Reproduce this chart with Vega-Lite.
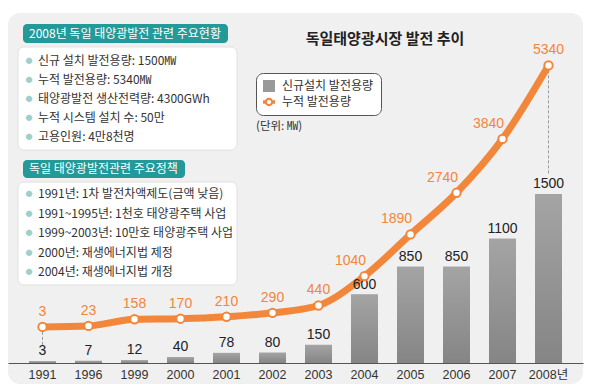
{
  "$schema": "https://vega.github.io/schema/vega-lite/v6.json",
  "width": 575,
  "height": 371,
  "autosize": {"type": "none"},
  "padding": {"left": 8, "top": 13, "right": 7, "bottom": 6},
  "background": "#ffffff",
  "view": {"fill": "#f0f0f0", "stroke": null, "cornerRadius": 12},
  "config": {"font": "Noto Sans CJK KR"},
  "data": {"values": [
    {"year": "1991", "new": 3, "cum": 3},
    {"year": "1996", "new": 7, "cum": 23},
    {"year": "1999", "new": 12, "cum": 158},
    {"year": "2000", "new": 40, "cum": 170},
    {"year": "2001", "new": 78, "cum": 210},
    {"year": "2002", "new": 80, "cum": 290},
    {"year": "2003", "new": 150, "cum": 440},
    {"year": "2004", "new": 600, "cum": 1040},
    {"year": "2005", "new": 850, "cum": 1890},
    {"year": "2006", "new": 850, "cum": 2740},
    {"year": "2007", "new": 1100, "cum": 3840},
    {"year": "2008년", "new": 1500, "cum": 5340}
  ]},
  "resolve": {"scale": {"y": "independent"}},
  "layer": [
    {
      "data": {"values": [{}]},
      "mark": {"type": "rect", "fill": "#ffffff", "stroke": "#e0e0e0", "strokeWidth": 1, "cornerRadius": 6},
      "encoding": {"x": {"value": 10}, "x2": {"value": 229}, "y": {"value": 34}, "y2": {"value": 137}}
    },
    {
      "data": {"values": [{}]},
      "mark": {"type": "rect", "fill": "#ffffff", "stroke": "#e0e0e0", "strokeWidth": 1, "cornerRadius": 6},
      "encoding": {"x": {"value": 10}, "x2": {"value": 229}, "y": {"value": 169}, "y2": {"value": 272}}
    },
    {
      "data": {"values": [{}]},
      "mark": {"type": "rect", "fill": "#239a98", "cornerRadius": 4},
      "encoding": {"x": {"value": 15}, "x2": {"value": 220}, "y": {"value": 11}, "y2": {"value": 30}}
    },
    {
      "data": {"values": [{}]},
      "mark": {"type": "rect", "fill": "#239a98", "cornerRadius": 4},
      "encoding": {"x": {"value": 15}, "x2": {"value": 177}, "y": {"value": 147}, "y2": {"value": 165}}
    },
    {
      "data": {"values": [{}]},
      "mark": {"type": "text", "text": "2008년 독일 태양광발전 관련 주요현황", "align": "left", "baseline": "middle", "fontSize": 12, "color": "#ffffff", "font": "Noto Sans CJK KR"},
      "encoding": {"x": {"value": 21}, "y": {"value": 20.5}}
    },
    {
      "data": {"values": [{}]},
      "mark": {"type": "text", "text": "독일 태양광발전관련 주요정책", "align": "left", "baseline": "middle", "fontSize": 12, "color": "#ffffff", "font": "Noto Sans CJK KR"},
      "encoding": {"x": {"value": 21}, "y": {"value": 156}}
    },
    {
      "data": {"values": [{}]},
      "mark": {"type": "text", "text": ["●", "●", "●", "●", "●"], "align": "center", "baseline": "middle", "fontSize": 7, "lineHeight": 19, "color": "#9fcfcd"},
      "encoding": {"x": {"value": 21}, "y": {"value": 48}}
    },
    {
      "data": {"values": [{}]},
      "mark": {"type": "text", "text": ["●", "●", "●", "●", "●"], "align": "center", "baseline": "middle", "fontSize": 7, "lineHeight": 19.5, "color": "#9fcfcd"},
      "encoding": {"x": {"value": 21}, "y": {"value": 181}}
    },
    {
      "data": {"values": [{}]},
      "mark": {"type": "text", "text": ["신규 설치 발전용량: 1500㎿", "누적 발전용량: 5340㎿", "태양광발전 생산전력량: 4300GWh", "누적 시스템 설치 수: 50만", "고용인원: 4만8천명"], "align": "left", "baseline": "middle", "fontSize": 12, "lineHeight": 19, "color": "#333333", "font": "Noto Sans CJK KR"},
      "encoding": {"x": {"value": 30}, "y": {"value": 48}}
    },
    {
      "data": {"values": [{}]},
      "mark": {"type": "text", "text": ["1991년: 1차 발전차액제도(금액 낮음)", "1991~1995년: 1천호 태양광주택 사업", "1999~2003년: 10만호 태양광주택 사업", "2000년: 재생에너지법 제정", "2004년: 재생에너지법 개정"], "align": "left", "baseline": "middle", "fontSize": 12, "lineHeight": 19.5, "color": "#333333", "font": "Noto Sans CJK KR"},
      "encoding": {"x": {"value": 30}, "y": {"value": 181}}
    },
    {
      "data": {"values": [{}]},
      "mark": {"type": "text", "text": "독일태양광시장 발전 추이", "align": "center", "baseline": "middle", "fontSize": 15, "fontWeight": "bold", "color": "#222222", "font": "Noto Sans CJK KR"},
      "encoding": {"x": {"value": 377}, "y": {"value": 26}}
    },
    {
      "data": {"values": [{}]},
      "mark": {"type": "text", "text": "(단위: ㎿)", "align": "left", "baseline": "middle", "fontSize": 11.5, "color": "#333333", "font": "Noto Sans CJK KR"},
      "encoding": {"x": {"value": 248}, "y": {"value": 114}}
    },
    {
      "mark": {"type": "bar"},
      "encoding": {
        "x": {"field": "year", "type": "ordinal", "sort": null,
          "scale": {"paddingInner": 0.413, "paddingOuter": 0.4565},
          "axis": {"title": null, "orient": "bottom", "offset": -21, "ticks": false, "grid": false, "domainColor": "#555555", "domainWidth": 1, "labelFontSize": 12.5, "labelColor": "#333333", "labelPadding": 5, "labelAngle": 0, "labelFont": "Liberation Sans, Noto Sans CJK KR, sans-serif"}},
        "y": {"field": "new", "type": "quantitative", "scale": {"domain": [-200, 3119], "nice": false, "zero": false}, "axis": null},
        "y2": {"datum": -12},
        "color": {"datum": "신규설치 발전용량",
          "scale": {"domain": ["신규설치 발전용량", "누적 발전용량"], "range": ["#999999", "#f2863a"]},
          "legend": {"orient": "none", "legendX": 248, "legendY": 60, "title": null, "fillColor": "#ffffff", "strokeColor": "#555555", "cornerRadius": 7, "padding": 7, "labelFontSize": 12, "labelColor": "#333333", "labelFont": "Noto Sans CJK KR", "symbolType": "square", "symbolSize": 144, "symbolStrokeWidth": 0, "rowPadding": 4, "labelOffset": 7,
            "encode": {"symbols": {"update": {"shape": {"signal": "datum.value === '누적 발전용량' ? 'M-1,-0.3H-0.6V0.3H-1Z M0.6,-0.3H1V0.3H0.6Z M0.7,0A0.7,0.7 0 1 1 -0.7,0A0.7,0.7 0 1 1 0.7,0Z M0.35,0A0.35,0.35 0 1 0 -0.35,0A0.35,0.35 0 1 0 0.35,0Z' : 'square'"}}}}}
        }
      }
    },
    {
      "mark": {"type": "bar", "color": {"gradient": "linear", "x1": 0, "y1": 0, "x2": 0, "y2": 1, "stops": [{"offset": 0, "color": "#a4a4a4"}, {"offset": 1, "color": "#858585"}]}},
      "encoding": {
        "x": {"field": "year", "type": "ordinal", "sort": null},
        "y": {"field": "new", "type": "quantitative", "scale": {"domain": [-200, 3119], "nice": false, "zero": false}, "axis": null},
        "y2": {"datum": -12}
      }
    },
    {
      "transform": [{"filter": "datum.year === '1991'"}],
      "mark": {"type": "rule", "color": "#999999", "strokeWidth": 1, "strokeDash": [3, 2]},
      "encoding": {
        "x": {"field": "year", "type": "ordinal", "sort": null},
        "y": {"field": "cum", "type": "quantitative", "scale": {"domain": [-1163, 6410], "nice": false, "zero": false}, "axis": null},
        "y2": {"datum": -388}
      }
    },
    {
      "transform": [{"filter": "datum.year === '2008년'"}],
      "mark": {"type": "rule", "color": "#999999", "strokeWidth": 1, "strokeDash": [3, 2]},
      "encoding": {
        "x": {"field": "year", "type": "ordinal", "sort": null},
        "y": {"field": "cum", "type": "quantitative", "scale": {"domain": [-1163, 6410], "nice": false, "zero": false}, "axis": null},
        "y2": {"datum": 3102}
      }
    },
    {
      "mark": {"type": "line", "color": "#f2863a", "strokeWidth": 7, "interpolate": "monotone"},
      "encoding": {
        "x": {"field": "year", "type": "ordinal", "sort": null},
        "y": {"field": "cum", "type": "quantitative", "scale": {"domain": [-1163, 6410], "nice": false, "zero": false}, "axis": null}
      }
    },
    {
      "mark": {"type": "text", "baseline": "bottom", "dy": -3, "fontSize": 14, "color": "#222222", "font": "Liberation Sans"},
      "encoding": {
        "x": {"field": "year", "type": "ordinal", "sort": null},
        "y": {"field": "new", "type": "quantitative", "scale": {"domain": [-200, 3119], "nice": false, "zero": false}, "axis": null},
        "text": {"field": "new", "type": "quantitative"}
      }
    },
    {
      "mark": {"type": "point", "filled": true, "fill": "#ffffff", "stroke": "#f2863a", "strokeWidth": 2, "size": 70, "opacity": 1},
      "encoding": {
        "x": {"field": "year", "type": "ordinal", "sort": null},
        "y": {"field": "cum", "type": "quantitative", "scale": {"domain": [-1163, 6410], "nice": false, "zero": false}, "axis": null}
      }
    },
    {
      "transform": [{"filter": "indexof(['2004','2005','2006','2007'], datum.year) < 0"}],
      "mark": {"type": "text", "baseline": "bottom", "dy": -8, "fontSize": 14, "color": "#f2863a", "font": "Liberation Sans"},
      "encoding": {
        "x": {"field": "year", "type": "ordinal", "sort": null},
        "y": {"field": "cum", "type": "quantitative", "scale": {"domain": [-1163, 6410], "nice": false, "zero": false}, "axis": null},
        "text": {"field": "cum", "type": "quantitative"}
      }
    },
    {
      "transform": [{"filter": "indexof(['2004','2005','2006','2007'], datum.year) >= 0"}],
      "mark": {"type": "text", "baseline": "bottom", "dy": -8, "dx": -14, "fontSize": 14, "color": "#f2863a", "font": "Liberation Sans"},
      "encoding": {
        "x": {"field": "year", "type": "ordinal", "sort": null},
        "y": {"field": "cum", "type": "quantitative", "scale": {"domain": [-1163, 6410], "nice": false, "zero": false}, "axis": null},
        "text": {"field": "cum", "type": "quantitative"}
      }
    }
  ]
}
